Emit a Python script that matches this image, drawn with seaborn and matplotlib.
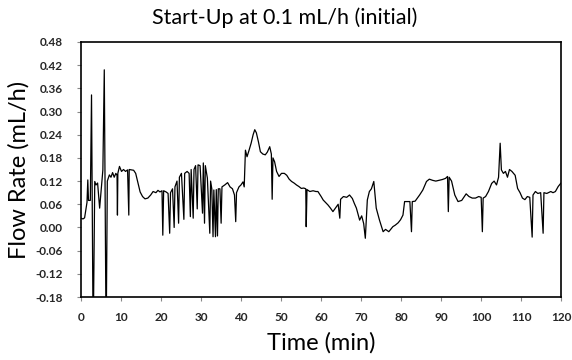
import matplotlib
matplotlib.use("Agg")
import matplotlib.pyplot as plt
import seaborn as sns
import pandas as pd
import numpy as np

time_min = [
    0.0, 0.5, 0.9, 1.2, 1.5, 1.7, 1.87, 2.33, 2.63, 3.04, 3.44, 3.75, 4.15, 4.66, 5.06, 5.47, 5.82, 6.28, 6.58,
    7.09, 7.49, 7.9, 8.3, 8.71, 9.01, 9.11, 9.21, 9.62, 10.13, 10.63, 11.14, 11.64, 11.95, 12.05, 12.66, 13.16, 13.67,
    14.28, 14.78, 15.39, 16.0, 16.71, 17.42, 18.02, 18.73, 19.24, 19.74, 20.25, 20.45, 20.66, 21.26, 21.77, 22.17,
    22.38, 22.88, 23.29, 23.49, 24.0, 24.4, 24.6, 25.11, 25.72, 25.92, 26.53, 27.03, 27.34, 27.54, 28.05, 28.25,
    28.65, 29.06, 29.26, 29.77, 30.38, 30.58, 30.88, 31.08, 31.59, 32.2, 32.4, 32.7, 33.01, 33.21, 33.62, 33.82,
    34.12, 34.32, 34.73, 35.03, 35.24, 35.94, 36.65, 37.26, 37.87, 38.37, 38.68, 38.88, 39.49, 39.99, 40.5, 40.8,
    41.11, 41.51, 42.02, 42.53, 43.03, 43.44, 43.84, 44.35, 44.85, 45.46, 46.07, 46.58, 47.18, 47.59, 47.79, 47.99,
    48.4, 48.9, 49.51, 50.12, 50.83, 51.44, 52.04, 52.65, 53.26, 53.87, 54.47, 55.08, 55.69, 56.19, 56.3, 56.5,
    57.21, 58.02, 58.73, 59.23, 60.04, 60.55, 61.76, 62.37, 62.98, 63.59, 64.29, 64.7, 64.9, 65.61, 66.42, 67.13,
    67.84, 68.34, 68.85, 69.66, 70.17, 70.67, 71.08, 71.58, 72.09, 72.6, 73.2, 73.81, 74.62, 75.53, 76.14, 76.95,
    77.96, 78.57, 79.28, 79.89, 80.49, 80.9, 81.61, 82.22, 82.62, 82.82, 83.53, 84.65, 85.46, 86.37, 87.08, 87.89,
    88.7, 89.51, 90.32, 91.13, 91.63, 91.83, 92.04, 92.64, 93.45, 94.26, 95.18, 96.29, 97.0, 97.81, 98.62, 99.43,
    100.04, 100.34, 100.54, 101.15, 101.86, 102.67, 103.28, 103.88, 104.39, 104.79, 105.1, 105.6, 106.11, 106.62,
    107.12, 107.73, 108.54, 109.15, 109.76, 110.36, 110.97, 111.58, 112.19, 112.79, 113.0, 113.6, 114.21, 114.92,
    115.53, 115.73, 116.44, 117.45, 118.0, 118.6, 119.3, 120.0,
]
flow_rate = [
    0.024, 0.022, 0.025, 0.045, 0.065, 0.123, 0.07, 0.07, 0.343, -0.30, 0.119, 0.11, 0.115, 0.05, 0.10, 0.149, 0.408, -0.30, 0.12,
    0.136, 0.13, 0.142, 0.13, 0.14, 0.135, 0.032, 0.14, 0.158, 0.145, 0.15, 0.145, 0.149, 0.032, 0.15, 0.149, 0.148, 0.14,
    0.114, 0.092, 0.08, 0.074, 0.076, 0.084, 0.093, 0.09, 0.096, 0.092, 0.095, -0.02, 0.095, 0.092, 0.088, -0.015,
    0.09, 0.10, 0.0, 0.105, 0.12, 0.011, 0.13, 0.14, 0.021, 0.14, 0.145, 0.14, 0.028, 0.15, 0.024, 0.15,
    0.16, 0.048, 0.162, 0.16, 0.037, 0.167, 0.011, 0.16, 0.128, -0.015, 0.12, 0.10, -0.024, 0.097, -0.024, 0.098,
    -0.022, 0.1, 0.1, 0.011, 0.105, 0.11, 0.116, 0.105, 0.1, 0.084, 0.015, 0.09, 0.105, 0.11, 0.118, 0.105,
    0.2, 0.183, 0.2, 0.218, 0.24, 0.253, 0.245, 0.222, 0.196, 0.19, 0.188, 0.195, 0.209, 0.19, 0.073, 0.18,
    0.17, 0.145, 0.132, 0.14, 0.14, 0.135, 0.125, 0.119, 0.115, 0.11, 0.106, 0.101, 0.102, 0.1, 0.002, 0.098,
    0.093, 0.095, 0.093, 0.093, 0.08, 0.071, 0.058, 0.05, 0.041, 0.05, 0.06, 0.024, 0.073, 0.08, 0.078, 0.084,
    0.075, 0.062, 0.05, 0.019, 0.03, 0.01, -0.028, 0.071, 0.093, 0.1, 0.119, 0.05, 0.019, -0.011, -0.005, -0.011,
    0.002, 0.006, 0.012, 0.02, 0.032, 0.067, 0.067, 0.067, -0.011, 0.067, 0.068, 0.084, 0.097, 0.119, 0.125, 0.122,
    0.12, 0.122, 0.124, 0.127, 0.132, 0.041, 0.13, 0.12, 0.084, 0.067, 0.07, 0.087, 0.08, 0.076, 0.076, 0.08,
    0.078, -0.011, 0.076, 0.08, 0.093, 0.114, 0.12, 0.11, 0.13, 0.218, 0.149, 0.14, 0.145, 0.13,
    0.15, 0.145, 0.135, 0.101, 0.09, 0.076, 0.072, 0.08, 0.078, -0.025, 0.084, 0.093, 0.088, 0.09,
    -0.015, 0.09, 0.088, 0.093, 0.09, 0.093, 0.106, 0.115,
]
x_ticks = list(range(0, 121, 10))
y_ticks = [-0.18, -0.12, -0.06, 0.00, 0.06, 0.12, 0.18, 0.24, 0.30, 0.36, 0.42, 0.48]

df = pd.DataFrame({"Time (min)": time_min, "Flow Rate (mL/h)": flow_rate})

sns.set_theme(style="white")
plt.rcParams["font.family"] = ["Lato", "DejaVu Sans"]

fig = plt.figure(figsize=(5.72, 3.6), dpi=100)
# axes from x=81..561 px, y=42..297 px
ax = fig.add_axes([81 / 572, 63 / 360, 480 / 572, 255 / 360])
sns.lineplot(data=df, x="Time (min)", y="Flow Rate (mL/h)", ax=ax,
             color="black", linewidth=0.9, estimator=None, sort=False)

ax.set_xlim(0, 120)
ax.set_ylim(-0.18, 0.48)
ax.set_xticks(x_ticks)
ax.set_yticks(y_ticks)
ax.set_yticklabels([f"{v:.2f}" for v in y_ticks])
for lab in ax.get_xticklabels() + ax.get_yticklabels():
    lab.set_fontweight("bold")
    lab.set_fontsize(8.5)
    lab.set_color("#262626")
ax.tick_params(axis="both", which="major", direction="out", length=3, width=0.8,
               color="#888888", bottom=True, left=True)
ax.tick_params(axis="y", pad=10)
ax.tick_params(axis="x", pad=8)
for s in ax.spines.values():
    s.set_visible(True)
    s.set_color("black")
    s.set_linewidth(1.2)

ax.set_xlabel("Time (min)", fontsize=17, labelpad=6, color="black")
ax.set_ylabel("Flow Rate (mL/h)", fontsize=17, labelpad=4, color="black")
fig.text(285 / 572, 1 - 18 / 360, "Start-Up at 0.1 mL/h (initial)", fontsize=15.5,
         color="black", ha="center", va="center")

fig.savefig("out.png", dpi=100)
